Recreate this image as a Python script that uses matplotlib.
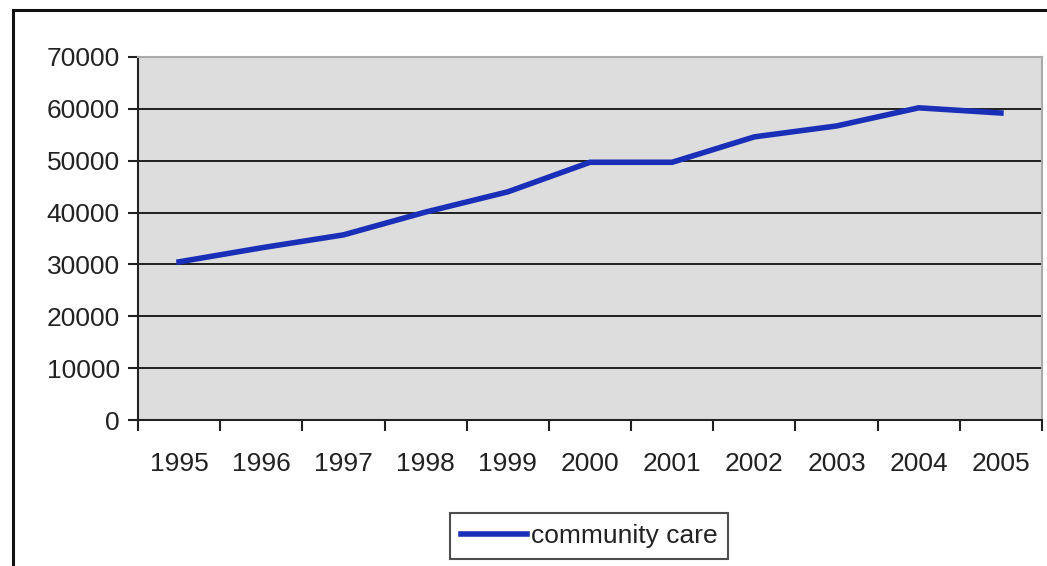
import matplotlib
matplotlib.use("Agg")
import matplotlib.pyplot as plt
from matplotlib.lines import Line2D
import numpy as np

years = ["1995", "1996", "1997", "1998", "1999", "2000", "2001", "2002", "2003", "2004", "2005"]
community_care = [30500, 33200, 35700, 40100, 44000, 49700, 49700, 54600, 56700, 60200, 59200]
y_ticks = [0, 10000, 20000, 30000, 40000, 50000, 60000, 70000]

plt.rcParams['font.family'] = ['Liberation Sans', 'DejaVu Sans']

W, H = 1047, 566
fig = plt.figure(figsize=(W / 100, H / 100), dpi=100)
ax = fig.add_axes([138 / W, 1 - 420 / H, (1042 - 138) / W, (420 - 57) / H])
ax.set_facecolor('#dddddd')

x = np.arange(len(years))
ax.plot(x, community_care, color='#1a2fb8', lw=4, solid_joinstyle='miter', label='community care', zorder=3)

ax.set_xlim(-0.5, len(years) - 0.5)
ax.set_ylim(0, 70000)
ax.set_yticks(y_ticks)
ax.set_yticklabels([str(v) for v in y_ticks], fontsize=19, color='#222222')
for v in y_ticks[1:-1]:
    ax.axhline(v, color='#111111', lw=1.3, zorder=1)

ax.set_xticks(np.arange(-0.5, len(years), 1.0))
ax.set_xticklabels([])
ax.set_xticks(x, minor=True)
ax.set_xticklabels(years, minor=True, fontsize=19, color='#222222')
ax.tick_params(axis='x', which='major', length=8, width=1.5, color='#222222', direction='out')
ax.tick_params(axis='x', which='minor', length=0, pad=23)
ax.tick_params(axis='y', length=7, width=1.5, color='#222222', pad=6)

ax.spines['left'].set_color('#222222')
ax.spines['left'].set_linewidth(1.5)
ax.spines['bottom'].set_color('#222222')
ax.spines['bottom'].set_linewidth(1.5)
ax.spines['top'].set_color('#aaaaaa')
ax.spines['top'].set_linewidth(1.5)
ax.spines['right'].set_color('#aaaaaa')
ax.spines['right'].set_linewidth(1.5)

# outer chart border (top and left visible)
fig.add_artist(Line2D([13 / W, 1.0], [1 - 10 / H, 1 - 10 / H], transform=fig.transFigure, color='#111111', lw=2.2))
fig.add_artist(Line2D([13 / W, 13 / W], [1 - 10 / H, 0.0], transform=fig.transFigure, color='#111111', lw=2.2))

leg = fig.legend(handles=[Line2D([], [], color='#1a2fb8', lw=4)], labels=['community care'],
                 loc='center', bbox_to_anchor=(589 / W, 1 - 536 / H), fontsize=19,
                 frameon=True, fancybox=False, handlelength=2.5, handletextpad=0.15,
                 borderpad=0.4, borderaxespad=0)
leg.get_frame().set_edgecolor('#222222')
leg.get_frame().set_linewidth(1.5)
for t in leg.get_texts():
    t.set_color('#222222')

fig.savefig('out.png', dpi=100)
